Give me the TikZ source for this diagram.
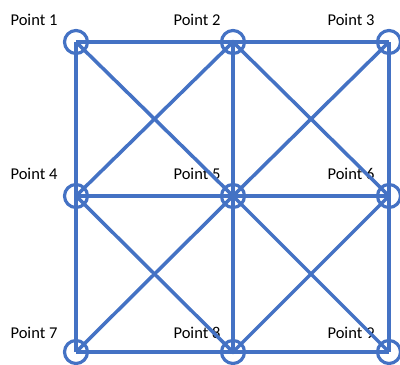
\documentclass[tikz,border=0pt]{standalone}
\usepackage{fontspec}
\setmainfont{Carlito}
\usepackage{xcolor}
\usepackage{tikz}
\usetikzlibrary{positioning}
\definecolor{gridblue}{RGB}{68, 114, 196}

\tikzset{
  pt/.style={draw=gridblue, line width=1.8pt, circle, minimum size=0.46cm, inner sep=0pt},
  lbl/.style={font=\fontsize{9.4}{11}\selectfont, text=black, inner sep=0pt},
  bar/.style={draw=gridblue, line width=2pt}
}

\begin{document}
\begin{tikzpicture}[x=0.02cm, y=-0.02cm]
                \useasboundingbox (0,0) rectangle (400,365);
                % points
                \node[pt] (p1) at ( 76, 42) {};
                \node[pt] (p2) at (233, 42) {};
                \node[pt] (p3) at (389, 42) {};
                \node[pt] (p4) at ( 76,196) {};
                \node[pt] (p5) at (233,196) {};
                \node[pt] (p6) at (389,196) {};
                \node[pt] (p7) at ( 76,352) {};
                \node[pt] (p8) at (233,352) {};
                \node[pt] (p9) at (389,352) {};
                % labels
                \node[lbl] (l1) at ( 34, 20) {Point 1};
                \node[lbl] (l2) at (197, 20) {Point 2};
                \node[lbl] (l3) at (351, 20) {Point 3};
                \node[lbl] (l4) at ( 34,174) {Point 4};
                \node[lbl] (l5) at (197,174) {Point 5};
                \node[lbl] (l6) at (351,174) {Point 6};
                \node[lbl] (l7) at ( 34,333) {Point 7};
                \node[lbl] (l8) at (197,333) {Point 8};
                \node[lbl] (l9) at (351,333) {Point 9};
                % rows and columns
                \draw[bar] (p1.center) -- (p2.center) -- (p3.center);
                \draw[bar] (p4.center) -- (p5.center) -- (p6.center);
                \draw[bar] (p7.center) -- (p8.center) -- (p9.center);
                \draw[bar] (p1.center) -- (p4.center) -- (p7.center);
                \draw[bar] (p2.center) -- (p5.center) -- (p8.center);
                \draw[bar] (p3.center) -- (p6.center) -- (p9.center);
                % diagonals
                \draw[bar] (p1.center) -- (p5.center) -- (p9.center);
                \draw[bar] (p3.center) -- (p5.center) -- (p7.center);
                \draw[bar] (p4.center) -- (p2.center) -- (p6.center);
                \draw[bar] (p4.center) -- (p8.center) -- (p6.center);
            \end{tikzpicture}
\end{document}
